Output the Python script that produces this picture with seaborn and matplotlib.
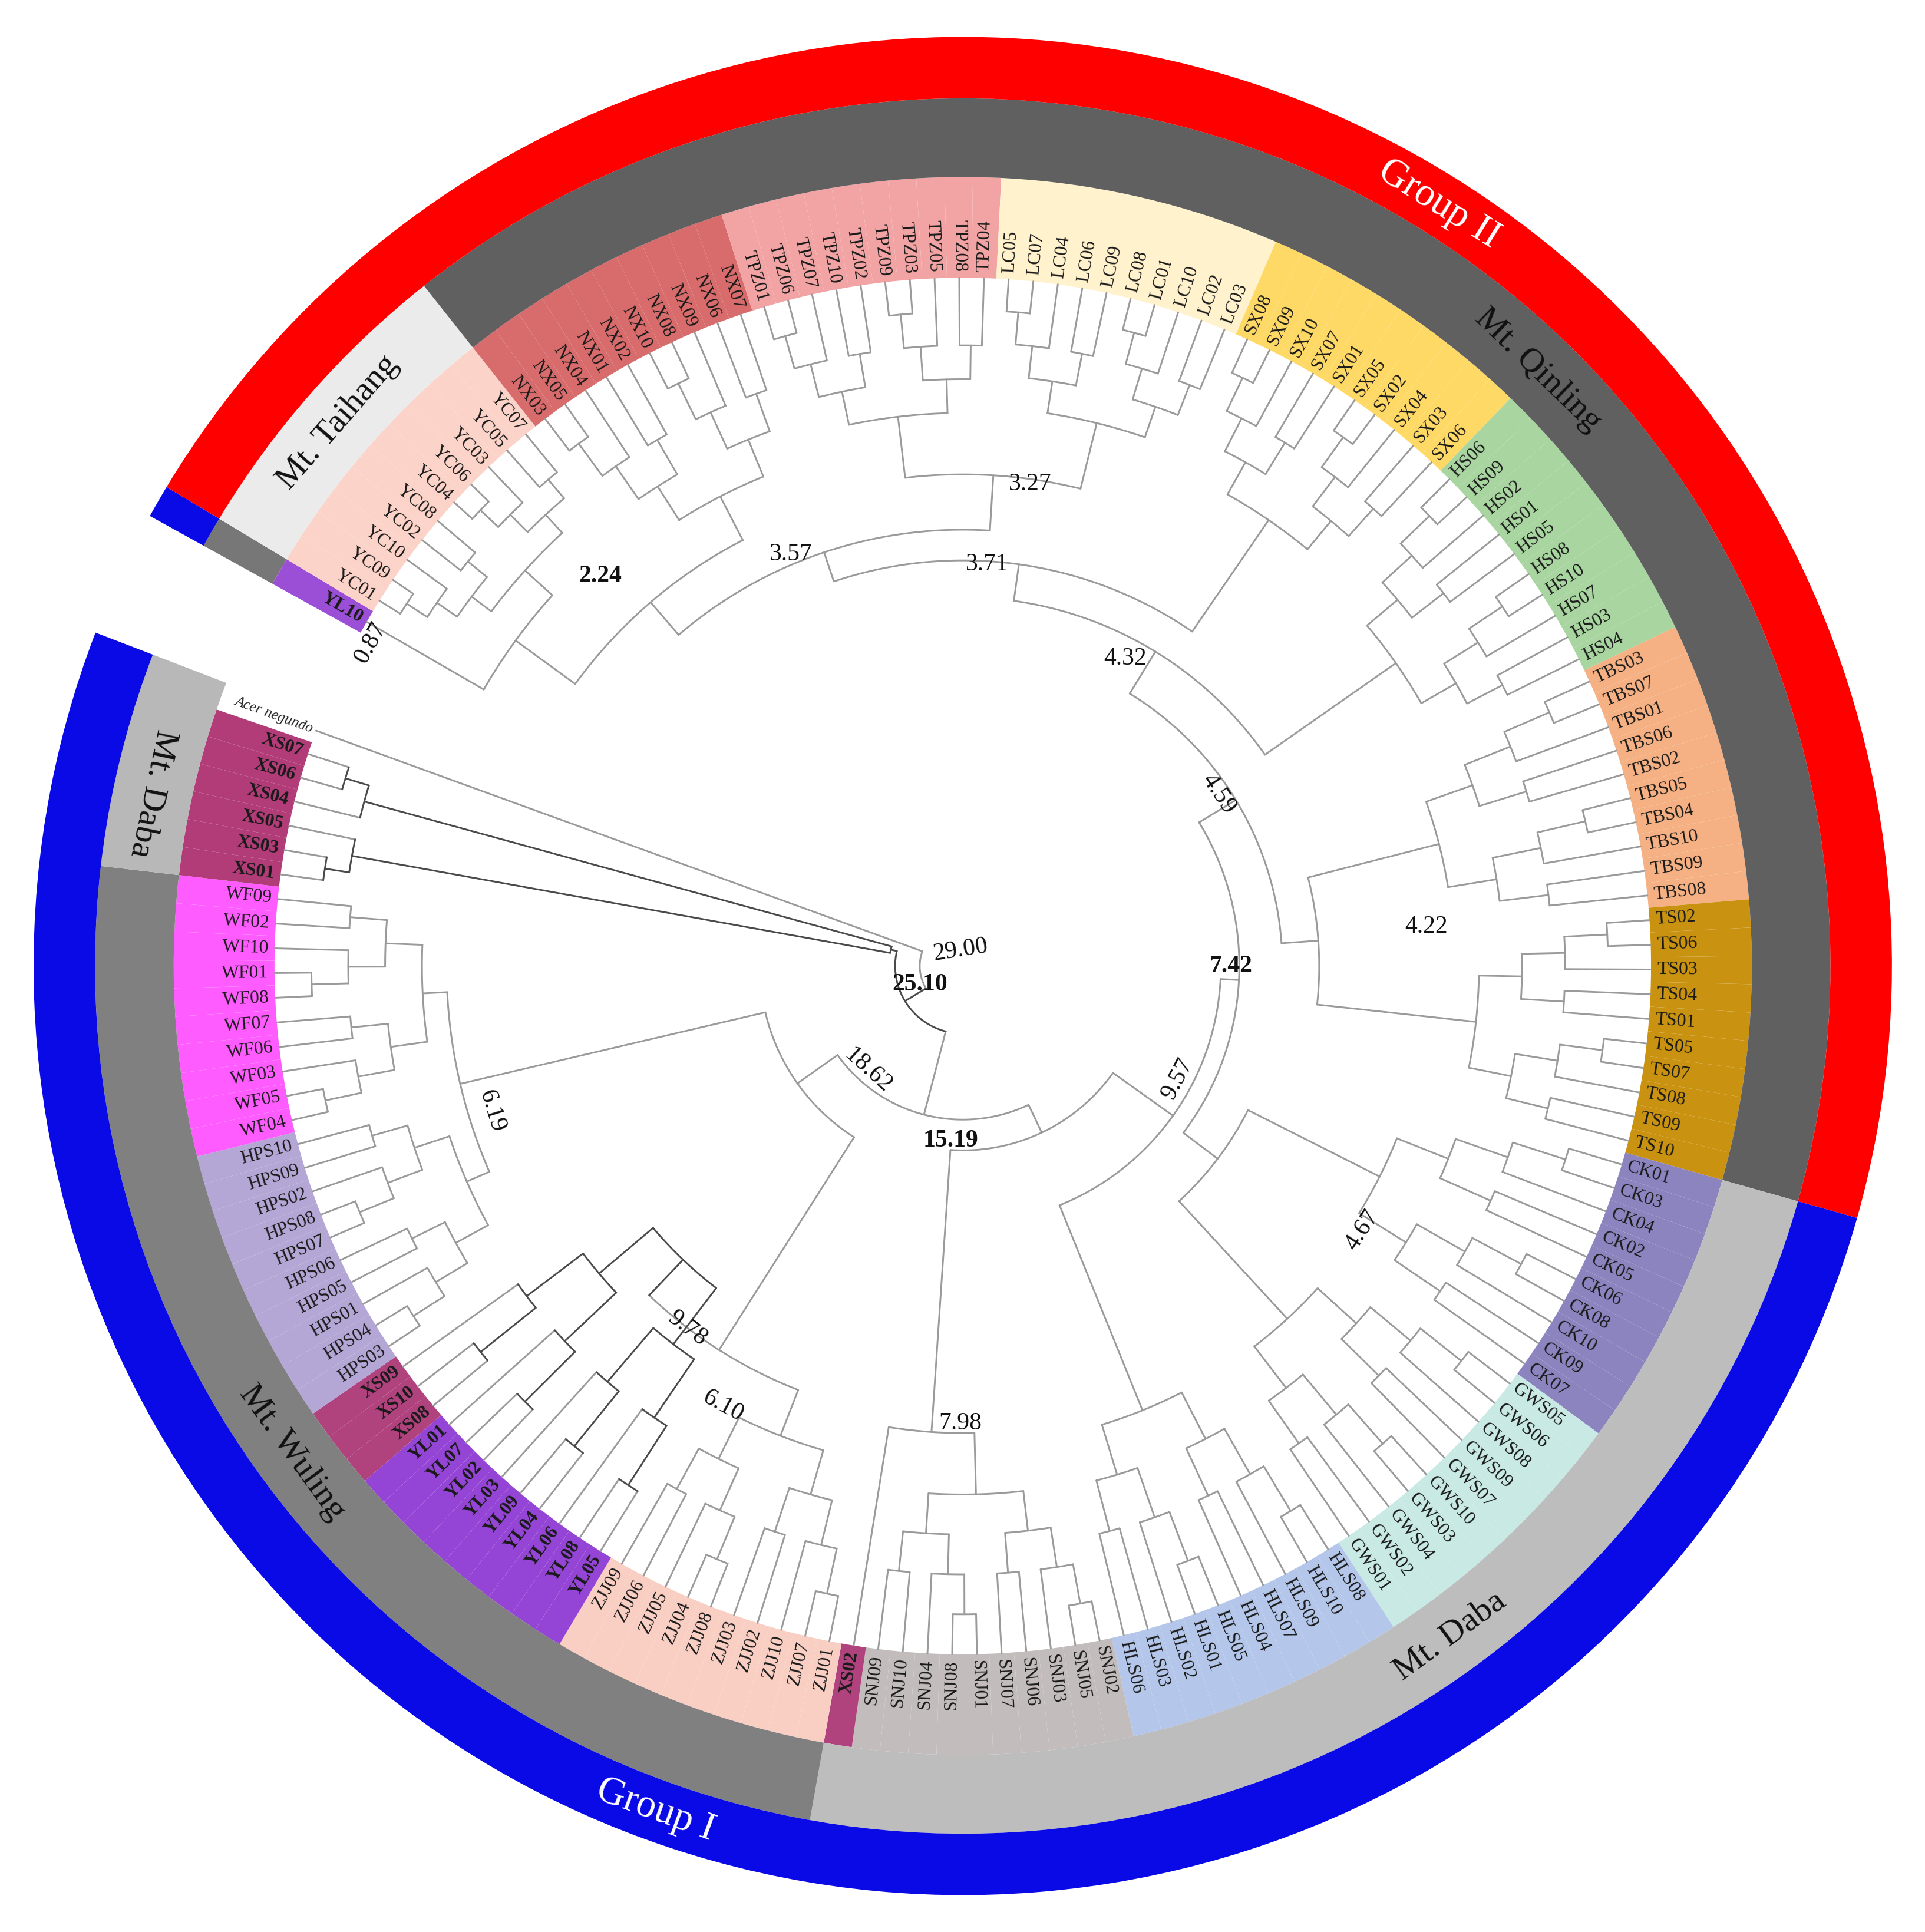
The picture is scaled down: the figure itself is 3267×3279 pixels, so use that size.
import numpy as np
import pandas as pd
import seaborn as sns
import matplotlib.pyplot as plt
from matplotlib.patches import Wedge

sns.set_style("white")
plt.rcParams['font.family'] = ['Liberation Serif', 'DejaVu Serif']

RLEAF = 560
LINE = '#9a9a9a'
DARK = '#4a4a4a'

def pop(p, ids):
    return [p + i for i in ids.split()]

YC = pop('YC', '01 09 10 02 08 04 06 03 05 07')
NX = pop('NX', '03 05 04 01 02 10 08 09 06 07')
TPZ = pop('TPZ', '01 06 07 10 02 09 03 05 08 04')
LC = pop('LC', '05 07 04 06 09 08 01 10 02 03')
SX = pop('SX', '08 09 10 07 01 05 02 04 03 06')
HS = pop('HS', '06 09 02 01 05 08 10 07 03 04')
TBS = pop('TBS', '03 07 01 06 02 05 04 10 09 08')
TS = pop('TS', '02 06 03 04 01 05 07 08 09 10')
CK = pop('CK', '01 03 04 02 05 06 08 10 09 07')
GWS = pop('GWS', '05 06 08 09 07 10 03 04 02 01')
HLS = pop('HLS', '08 10 09 07 04 05 01 02 03 06')
SNJ = pop('SNJ', '02 05 03 06 07 01 08 04 10 09')
ZJJ = pop('ZJJ', '01 07 10 02 03 08 04 05 06 09')
YL = pop('YL', '05 08 06 04 09 03 02 07 01')
XS3 = pop('XS', '08 10 09')
HPS = pop('HPS', '03 04 01 05 06 07 08 02 09 10')
WF = pop('WF', '04 05 03 06 07 08 01 10 02 09')
XS6 = pop('XS', '01 03 05 04 06 07')

groups = [  # (leaves, label colour, bold)
    (['YL10'], '#9b4fd6', True), (YC, '#fcd3c8', False), (NX, '#d86b6b', False),
    (TPZ, '#f2a3a3', False), (LC, '#fff2cc', False), (SX, '#ffd966', False),
    (HS, '#a8d5a0', False), (TBS, '#f5b183', False), (TS, '#c99210', False),
    (CK, '#8b84bf', False), (GWS, '#c8e9e4', False), (HLS, '#b4c7ea', False),
    (SNJ, '#c2bcbc', False), (['XS02'], '#b0427e', True), (ZJJ, '#f9cfc4', False),
    (YL, '#9545d6', True), (XS3, '#b0427e', True), (HPS, '#b4a7d6', False),
    (WF, '#ff5cff', False), (XS6, '#b23c78', True), (['Acer negundo'], None, False),
]
leaves, colours, bolds = [], [], []
for names, c, b in groups:
    leaves += names
    colours += [c] * len(names)
    bolds += [b] * len(names)
n = len(leaves)
step = 350.0 / (n - 1)
angle = {name: 150 - i * step for i, name in enumerate(leaves)}


def N(r, ch, c=LINE):
    return {'r': r, 'ch': ch, 'c': c}


def clade(names, r0, c=LINE):
    if len(names) == 1:
        return names[0]
    d = int(np.ceil(np.log2(len(names))))
    st = (RLEAF - r0) / d
    k = (len(names) + 1) // 2
    return N(r0, [clade(names[:k], r0 + st, c), clade(names[k:], r0 + st, c)], c)


taihang = N(450, ['YL10', clade(YC, 480)])
t224 = N(390, [taihang, clade(NX, 430)])
t327 = N(400, [clade(TPZ, 450), clade(LC, 455)])
t357 = N(355, [t224, t327])
t371 = N(330, [t357, clade(SX, 440)])
t432 = N(300, [t371, clade(HS, 430)])
t422 = N(290, [clade(TBS, 400), clade(TS, 420)])
t459 = N(260, [t432, t422])
t467 = N(260, [clade(CK, 380), clade(GWS, 390)])
t742 = N(225, [t459, t467])
t957 = N(210, [t742, clade(HLS, 390)])
t798 = N(380, [clade(SNJ, 430), 'XS02'])
t1519 = N(150, [t957, t798])
t978 = N(370, [clade(ZJJ, 410), clade(YL + XS3, 330, DARK)])
t619 = N(420, [clade(HPS, 440), clade(WF, 440)])
west = N(165, [t978, t619])
t1862 = N(125, [t1519, west])
xs_a = N(60, [N(505, [N(525, ['XS01', 'XS03'], DARK), 'XS05'], DARK),
              N(505, ['XS04', N(525, ['XS06', 'XS07'], DARK)], DARK)], DARK)
t2510 = N(55, [t1862, xs_a], DARK)
root = N(35, [t2510, 'Acer negundo'])

rows = []
seg = [0]


def add(xs, ys, c):
    seg[0] += 1
    for x, y in zip(xs, ys):
        rows.append({'seg': seg[0], 'x': x, 'y': y, 'c': c})


def draw(node):
    if isinstance(node, str):
        return angle[node], RLEAF, LINE
    kids = [draw(ch) for ch in node['ch']]
    r = node['r']
    a = [k[0] for k in kids]
    t = np.radians(np.linspace(min(a), max(a), 80))
    add(r * np.cos(t), r * np.sin(t), node['c'])
    for ka, kr, kc in kids:
        tt = np.radians(ka)
        add([r * np.cos(tt), kr * np.cos(tt)], [r * np.sin(tt), kr * np.sin(tt)], kc)
    return np.mean([min(a), max(a)]), r, node['c']


draw(root)
df = pd.DataFrame(rows)

fig = plt.figure(figsize=(10.893, 10.93), dpi=300)
ax = fig.add_axes([0, 0, 1, 1])
ax.set_xlim(-782, 782)
ax.set_ylim(-786, 786)
ax.set_aspect('equal')
ax.axis('off')

# rings
half = step / 2
for i, (name, c) in enumerate(zip(leaves, colours)):
    if c:
        ax.add_patch(Wedge((0, 0), 642, angle[name] - half, angle[name] + half,
                           width=82, facecolor=c, edgecolor='none'))


def ring(i0, i1, r, w, c):
    a0 = angle[leaves[i1]] - half
    a1 = angle[leaves[i0]] + half
    ax.add_patch(Wedge((0, 0), r, a0, a1, width=w, facecolor=c, edgecolor='none'))


MR, MW = 706, 64
ring(0, 0, MR, MW, '#777777')
ring(1, 10, MR, MW, '#ebebeb')
ring(11, 80, MR, MW, '#606060')
ring(81, 121, MR, MW, '#bdbdbd')
ring(122, 163, MR, MW, '#808080')
ring(164, 170, MR, MW, '#b8b8b8')
ring(0, 0, 756, 50, '#0a0ae6')
ring(1, 80, 756, 50, '#ff0000')
ring(81, 170, 756, 50, '#0a0ae6')

sns.lineplot(data=df, x='x', y='y', units='seg', estimator=None, sort=False,
             hue='c', palette={LINE: LINE, DARK: DARK}, legend=False,
             linewidth=0.7, ax=ax)

# leaf labels
for name, b in zip(leaves, bolds):
    a = angle[name]
    t = np.radians(a)
    right = np.cos(t) >= 0
    rot = a if right else a + 180
    if name == 'Acer negundo':
        ax.text(563 * np.cos(t), 563 * np.sin(t), name, rotation=rot, rotation_mode='anchor',
                ha='left' if right else 'right', va='center', fontsize=6, style='italic', color='#222')
        continue
    ax.text(565 * np.cos(t), 565 * np.sin(t), name, rotation=rot, rotation_mode='anchor',
            ha='left' if right else 'right', va='center', fontsize=7.6,
            fontweight='bold' if b else 'normal', color='#1a1a1a')

# node labels (value, image dx, dy, bold)
node_labels = [('0.87', -482, 263, False), ('2.24', -295, 317, True), ('3.57', -140, 335, False),
               ('3.27', 55, 392, False), ('3.71', 20, 327, False), ('4.32', 132, 250, False),
               ('4.59', 208, 140, False), ('4.22', 377, 32, False), ('7.42', 218, 0, True),
               ('9.57', 175, -92, False), ('4.67', 325, -215, False), ('7.98', -2, -372, False),
               ('15.19', -10, -142, True), ('18.62', -77, -85, False), ('25.10', -35, -15, True),
               ('29.00', -2, 13, False), ('6.19', -383, -118, False), ('9.78', -224, -295, False),
               ('6.10', -195, -358, False)]
for lab, dx, dy, b in node_labels:
    a = np.degrees(np.arctan2(dy, dx))
    rot = a - 90
    if rot < -90:
        rot += 180
    if b or lab in ('3.27', '3.71', '4.22', '4.32', '3.57', '7.98'):
        rot = 0
    ax.text(dx, dy, lab, rotation=rot, ha='center', va='center', fontsize=10,
            fontweight='bold' if b else 'normal', color='#111')

ring_texts = [('Mt. Taihang', 139, 674, 49, '#111', 14), ('Mt. Qinling', 46, 674, -44, '#111', 14),
              ('Mt. Daba', -54, 674, 36, '#111', 14), ('Mt. Wuling', -144, 674, -54, '#111', 14),
              ('Mt. Daba', 168, 674, -102, '#111', 14),
              ('Group II', 58, 731, -32, 'white', 16), ('Group I', -110, 731, -20, 'white', 16)]
for s, a, r, rot, c, fs in ring_texts:
    t = np.radians(a)
    ax.text(r * np.cos(t), r * np.sin(t), s, rotation=rot, ha='center', va='center',
            fontsize=fs, color=c)

plt.savefig('out.png', dpi=300)
